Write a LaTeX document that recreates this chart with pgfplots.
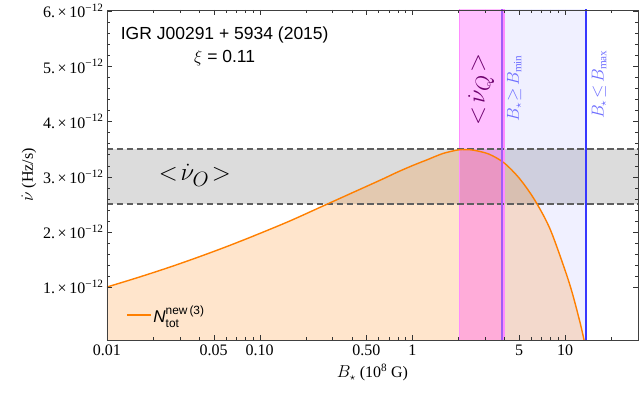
\documentclass[border=0pt]{standalone}
\usepackage{fontspec}
\setmainfont{Liberation Serif}
\newfontfamily\arial{Liberation Sans}
\usepackage{amsmath}
\usepackage{pgfplots}
\usepackage{pgfplotstable}
\pgfplotsset{compat=1.18}
\usetikzlibrary{calc}
\definecolor{myorange}{RGB}{255,127,0}
\definecolor{bandgray}{RGB}{220,220,220}
\definecolor{dashgray}{RGB}{95,95,95}
\definecolor{minline}{RGB}{160,95,245}
\definecolor{maxline}{RGB}{55,55,255}
\definecolor{qtext}{RGB}{110,0,110}
\definecolor{btext}{RGB}{110,110,255}
\definecolor{pinkfill}{RGB}{255,0,255}
\definecolor{pinkedge}{RGB}{255,140,255}
\definecolor{lavfill}{RGB}{0,0,255}

\pgfplotstableread{
B v
0.01 1.00
0.01585 1.17
0.02512 1.35
0.03981 1.544
0.0631 1.75
0.1 1.97
0.1585 2.20
0.2512 2.45
0.3981 2.70
0.631 2.95
0.7943 3.08
1.0 3.20
1.259 3.31
1.585 3.42
1.995 3.485
2.239 3.49
2.512 3.48
3.162 3.41
3.981 3.25
5.012 2.97
6.31 2.58
7.943 2.06
10 1.30
11.22 0.86
12.59 0.33
13.4 0.0
}\curve

\begin{document}
\begin{tikzpicture}
\begin{axis}[
  name=ax,
  xmode=log,
  scale only axis,
  width=531pt, height=330pt,
  xmin=0.01, xmax=30,
  ymin=0.04, ymax=6.02,
  axis on top,
  axis line style={black!75},
  tick align=inside,
  major tick length=5pt,
  minor tick length=3pt,
  tick style={black!80},
  xtick={0.01,0.05,0.1,0.5,1,5,10},
  xticklabels={0.01,0.05,0.10,0.50,1,5,10},
  minor xtick={0.02,0.03,0.04,0.06,0.07,0.08,0.09,0.2,0.3,0.4,0.6,0.7,0.8,0.9,2,3,4,6,7,8,9,20},
  ytick={1,2,3,4,5,6},
  yticklabels={1.\,×\,10\textsuperscript{−12},2.\,×\,10\textsuperscript{−12},3.\,×\,10\textsuperscript{−12},4.\,×\,10\textsuperscript{−12},5.\,×\,10\textsuperscript{−12},6.\,×\,10\textsuperscript{−12}},
  minor y tick num=4,
  ticklabel style={font=\fontsize{16}{17}\selectfont},
  xticklabel style={yshift=-1pt},
  xlabel={$B_\star$ (10\textsuperscript{8} G)},
  ylabel={$\dot{\nu}$ (Hz/s)},
  label style={font=\fontsize{16}{17}\selectfont},
  xlabel style={yshift=-2pt},
  legend style={draw=none, fill=none, at={(0.03,0.035)}, anchor=south west, font=\arial\fontsize{17}{19}\selectfont},
  legend image code/.code={\draw[myorange, line width=1.3pt] (0pt,0pt) -- (24pt,0pt);},
]
% gray band
\addplot[draw=none, fill=bandgray, forget plot] coordinates {(0.01,2.5) (30,2.5) (30,3.5) (0.01,3.5)} -- cycle;
% lavender band
\addplot[draw=none, fill=lavfill, fill opacity=0.06, forget plot] coordinates {(3.84,0) (13.6,0) (13.6,6.1) (3.84,6.1)} -- cycle;
% orange fill
\addplot[draw=none, fill=myorange, fill opacity=0.2, smooth, forget plot] table[x=B,y=v] {\curve} \closedcycle;
% pink band
\addplot[draw=none, fill=pinkfill, fill opacity=0.25, forget plot] coordinates {(2.03,0) (3.97,0) (3.97,6.1) (2.03,6.1)} -- cycle;
\addplot[pinkedge, line width=1.4pt, forget plot] coordinates {(2.03,0) (2.03,6.1)};
\addplot[pinkedge, line width=1.4pt, forget plot] coordinates {(3.97,0) (3.97,6.1)};
% dashed lines
\addplot[dashgray, line width=1.6pt, dash pattern=on 6.5pt off 3.5pt, forget plot] coordinates {(0.01,2.5) (30,2.5)};
\addplot[dashgray, line width=1.6pt, dash pattern=on 6.5pt off 3.5pt, forget plot] coordinates {(0.01,3.5) (30,3.5)};
% curve
\addplot[myorange, line width=1.4pt, smooth] table[x=B,y=v] {\curve};
\addlegendentry{{\itshape N}$_{\text{\arial tot}}^{\text{\arial new\,(3)}}$}
% vertical lines
\addplot[minline, line width=2pt, forget plot] coordinates {(3.84,0) (3.84,6.1)};
\addplot[maxline, line width=2pt, forget plot] coordinates {(13.6,0) (13.6,6.1)};
% texts
\node[align=center, font=\arial\fontsize{17.5}{23}\selectfont] at (axis cs:0.059,5.37) {IGR J00291 + 5934 (2015)\\ $\xi$ = 0.11};
\node[font=\fontsize{30}{32}\selectfont] at (axis cs:0.0376,3.02) {$<\!\dot{\nu}_O\!>$};
\node[rotate=90, text=qtext, font=\fontsize{30}{32}\selectfont] at (axis cs:2.82,4.58) {$<\!\dot{\nu}_Q\!>$};
\node[rotate=90, text=btext, font=\fontsize{16}{18}\selectfont] at (axis cs:4.64,4.6) {$B_\star\!\geq\! B_{\min}$};
\node[rotate=90, text=btext, font=\fontsize{16}{18}\selectfont] at (axis cs:16.7,4.67) {$B_\star\!\leq\! B_{\max}$};
\end{axis}
\pgfresetboundingbox
\path ($(ax.south west)+(-107pt,-55pt)$) rectangle ($(ax.north east)+(1pt,10pt)$);
\end{tikzpicture}
\end{document}
